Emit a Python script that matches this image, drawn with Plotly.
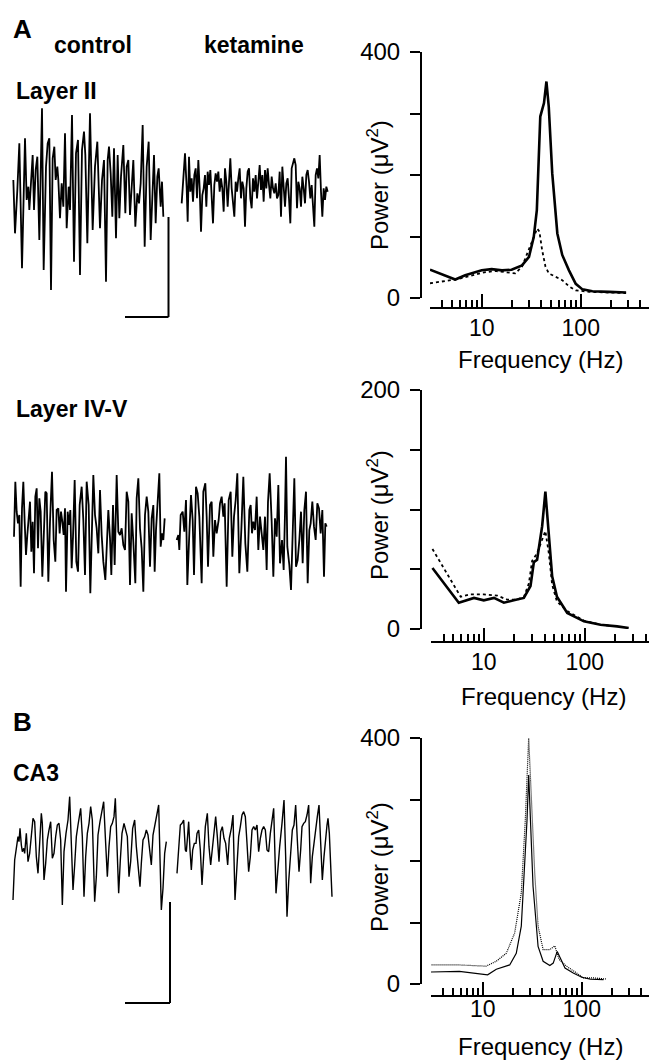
import math
import plotly.graph_objects as go

W, H = 657, 1060
OFF = 8  # the page body adds an 8px margin around the figure
FONT = "Liberation Sans, Arial, Helvetica, sans-serif"

# ---------------------------------------------------------------
# example field potential traces
# (time / amplitude in arbitrary units, no calibration given)
# ---------------------------------------------------------------
l2_ctrl_t = [10, 15, 22, 28, 36, 45, 50, 55, 58, 63, 68, 72, 77, 82, 88, 96, 101, 108, 113, 118,
             123, 128, 133, 137, 142, 145, 150, 155, 160, 165, 170, 176, 180, 186, 192, 198, 204, 210, 216, 222,
             226, 232, 240, 248, 255, 262, 270, 276, 282, 288, 293, 297, 302, 307, 312, 318, 323, 328, 333, 340,
             346, 350, 355, 360, 365, 370, 376, 382, 387, 392, 398, 404, 410, 416, 422, 428, 432, 437, 442, 446,
             452, 456, 460]
l2_ctrl_v = [40, -120, 10, 150, -225, 165, -20, 20, -50, 30, 115, -50, 70, 110, -140, 255, -230, 80, 150, 165,
             -290, 105, 140, 40, 80, 40, -75, 30, -40, 180, -105, 20, -50, 235, -205, 120, 160, -245, 130, 185,
             115, -150, 240, -110, 80, 155, -105, 40, 100, -265, 100, 140, 60, -70, 135, -135, 115, -75, 50, 145,
             -60, 80, 100, -65, 40, 100, -100, 0, -30, 30, 205, -160, 80, 155, -140, 35, 115, -90, 50, 75,
             -40, 35, -70]

l2_ket_t = [20, 25, 30, 35, 38, 42, 46, 50, 54, 58, 62, 66, 70, 74, 78, 82, 86, 90, 94, 98,
            102, 106, 110, 114, 118, 122, 126, 130, 134, 138, 142, 146, 150, 154, 158, 162, 166, 170, 174, 178,
            182, 186, 190, 194, 198, 202, 206, 210, 214, 218, 222, 226, 230, 234, 238, 242, 246, 250, 254, 258,
            262, 266, 270, 274, 278, 282, 286, 290, 294, 298, 302, 306, 310, 314, 318, 322, 326, 330, 334, 338,
            342, 346, 350, 354, 358, 362, 366, 370, 374, 378, 382, 386, 390, 394, 398, 402, 406, 410, 414, 418,
            422, 426, 430, 434, 438, 442, 446, 450, 454, 458]
l2_ket_v = [-45, 30, 105, 0, -100, 95, -10, 30, -40, 40, 60, -30, 85, 0, -130, -20, 0, 40, -55, 50,
            10, 55, -10, -105, 10, 45, 20, 50, -10, 30, 0, -70, 60, 20, -55, 40, 90, 0, -50, -85,
            20, -10, 30, 60, -30, 20, 0, -115, 0, 50, 60, -30, -60, 30, -10, 40, -30, 20, 70, -5,
            40, -40, 55, 0, 60, 10, -30, 35, 0, -15, 15, -30, -20, 50, -85, 65, 0, -55, 15, 30,
            -30, -105, 60, 80, 90, 70, -60, 20, 0, -55, 35, 0, -45, 40, 55, 20, -30, 10, -40, -115,
            40, 60, 30, 100, -10, -85, 0, -35, 5, -10]

l45_ctrl_t = [12, 16, 20, 24, 28, 32, 36, 40, 44, 48, 52, 56, 60, 64, 68, 72, 76, 80, 84, 88,
              92, 97, 102, 106, 110, 115, 120, 126, 131, 136, 140, 145, 149, 153, 157, 161, 165, 168, 173, 177,
              181, 185, 189, 194, 199, 204, 209, 215, 220, 225, 230, 236, 241, 246, 250, 255, 260, 265, 270, 275,
              280, 286, 290, 295, 300, 304, 309, 314, 320, 325, 330, 335, 340, 345, 350, 355, 360, 365, 370, 376,
              380, 385, 390, 395, 400, 405, 410, 415, 420, 425, 430, 434, 438, 443, 448, 452, 456, 460, 464]
l45_ctrl_v = [-25, 140, 50, 15, 40, -175, 60, 140, 20, -80, -20, 40, 80, -70, 20, -135, 95, 120, -60, 90,
              50, -145, 20, 110, 105, -160, 20, 170, -35, -100, 55, 60, -15, 50, 20, -20, 60, -190, 50, 10,
              55, -120, -25, 145, -100, -130, 70, 125, 25, -140, 140, 70, -195, 20, 160, 40, 0, -75, 115, -20,
              -100, -155, -30, 55, -30, -140, 70, -110, 160, -10, -20, 0, -50, -65, 110, 80, -170, 45, -40, -165,
              90, 150, 0, -60, -190, 40, 95, 50, -115, 30, 70, -130, -5, 80, 165, -55, -15, -35, 30]

l45_ket_t = [20, 25, 28, 32, 38, 43, 48, 52, 58, 63, 68, 72, 78, 83, 88, 95, 100, 106, 110, 114,
             120, 125, 130, 135, 140, 146, 150, 155, 160, 164, 170, 176, 182, 187, 192, 197, 202, 208, 214, 220,
             226, 232, 238, 242, 246, 250, 255, 260, 265, 270, 275, 280, 285, 290, 294, 299, 305, 310, 315, 320,
             325, 330, 336, 341, 345, 348, 352, 358, 363, 368, 373, 378, 383, 388, 393, 398, 403, 408, 413, 418,
             422, 427, 432, 437, 442, 447, 452, 457, 462, 466, 470]
l45_ket_v = [-30, -15, -60, 45, 55, -5, 90, -165, -10, 105, 30, -135, 130, 110, 40, -160, 115, 140, 40, -110,
             75, 85, -80, 30, -10, 30, 80, 100, 40, 80, -170, 90, 115, -80, 40, 90, 170, -130, 0, 160,
             -40, -125, 60, 75, -10, 25, 0, 100, -60, 40, -10, -60, 40, -120, 85, 170, 25, -140, 35, -20,
             135, -100, -30, -120, 50, 220, -50, -105, -180, 10, 155, -110, -90, -30, 55, -100, 60, 115, -160, 0,
             20, 85, 10, -30, 80, 65, -10, 60, -140, 20, 10]

ca3_ctrl_t = [15, 20, 25, 30, 33, 36, 40, 43, 47, 50, 55, 60, 65, 70, 75, 80, 85, 90, 95, 100,
              103, 108, 113, 118, 123, 128, 133, 138, 143, 148, 153, 158, 163, 168, 174, 180, 185, 190, 195, 200,
              205, 210, 213, 218, 223, 228, 233, 238, 243, 248, 253, 260, 265, 270, 276, 282, 287, 292, 298, 303,
              308, 313, 318, 322, 327, 332, 337, 342, 348, 353, 358, 363, 368, 374, 380, 385, 390, 396, 400, 405,
              410, 415, 420, 425, 430, 435, 440, 446, 452, 456, 460, 465, 470, 475]
ca3_ctrl_v = [-150, -30, 5, 40, 25, 65, 15, -5, 5, -10, 50, -35, -10, 55, 95, 85, -20, -70, 40, 110,
              80, -90, -40, 30, 60, 85, -25, -10, 40, 75, 80, 30, -165, -5, 50, 90, 160, 0, -120, -45,
              40, 75, 100, 125, 40, -140, -20, 50, 80, 130, 90, -155, -80, 45, 85, 115, 145, 40, -80, 10,
              70, 80, 100, 155, -10, -130, -30, 50, 80, 60, 40, -80, -35, 65, 90, 10, -55, -110, -40, 30,
              40, 60, 45, 5, -45, 45, 70, 100, 135, -25, -180, -115, -10, 25]

ca3_ket_t = [15, 20, 25, 30, 35, 40, 43, 47, 50, 54, 58, 62, 67, 72, 75, 80, 85, 90, 95, 100,
             106, 111, 116, 121, 126, 131, 136, 141, 146, 151, 156, 161, 167, 172, 178, 183, 189, 195, 200, 205,
             210, 215, 220, 225, 230, 235, 240, 245, 250, 255, 260, 265, 270, 275, 280, 285, 290, 295, 300, 305,
             312, 318, 323, 330, 336, 341, 345, 350, 356, 361, 366, 371, 376, 381, 386, 390, 395, 400, 405, 410,
             416, 421, 426, 431, 436, 441, 447, 451, 456, 460, 465, 468, 472, 480]
ca3_ket_v = [-80, 0, 65, 70, 80, -10, -15, 35, 75, -10, -70, -10, 10, 10, 40, 50, -10, -115, -30, 60,
             100, 0, -55, -5, 60, 90, 30, -45, 45, 60, 25, 10, -55, 25, 55, 95, -160, -50, 30, 60,
             95, 105, 90, 10, -75, -30, 50, 60, 50, 65, -15, 25, 50, 60, 50, -10, -15, 40, 85, 115,
             -140, -50, 0, 70, 140, -30, -210, -105, -10, 50, 65, 125, 20, -75, -10, 60, 70, 75, 95, 125,
             -110, -30, 10, 60, 90, 125, -5, -100, -30, 20, 65, 85, 40, -150]

# ---------------------------------------------------------------
# power spectra (Hz, uV^2)
# ---------------------------------------------------------------
l2_f_ctrl = [3.0, 5.4, 6.8, 10, 12.6, 16, 20, 25.5, 30, 33.5, 36, 39, 42.5, 45, 47.5, 51.5, 58, 65, 76, 89,
             104, 131, 194, 287]
l2_p_ctrl = [46, 30, 37, 45, 47, 45, 46, 53, 67, 99, 143, 295, 317, 352, 311, 203, 105, 70, 45, 23,
             14, 11, 10, 9]
l2_f_ket = [3.0, 5.4, 7.3, 10, 13.7, 18.7, 21.8, 25.5, 30, 33.5, 36.2, 38.2, 40.7, 44, 47.6, 55.7, 65, 76,
            89, 122, 194, 287]
l2_p_ket = [24, 30, 35, 41, 44, 42, 40, 51, 78, 99, 113, 108, 78, 51, 40, 34, 29, 19, 12.5, 10, 9, 8]

l45_f_ctrl = [3.1, 5.65, 8, 10, 12.6, 15.8, 19.8, 24.9, 29, 31.3, 33.7, 37.8, 40.7, 44, 47.5, 53, 67, 98,
              143, 209, 272]
l45_p_ctrl = [51, 22, 26, 24, 26, 22, 24, 26, 36, 56, 58, 86, 115, 77, 44, 27, 13.4, 6.4, 3.6, 2.2, 0.8]
l45_f_ket = [3.1, 5.9, 7.4, 10, 13.6, 17.1, 21.4, 25, 27.9, 30.1, 33.7, 37.8, 40.7, 44, 47.5, 53, 67, 98,
             143, 209]
l45_p_ket = [67, 27, 29, 29, 28, 24.5, 24.5, 27, 38, 57, 63.5, 75, 82, 63.5, 37, 23, 15, 7, 3.6, 2.2]

ca3_f_ctrl = [2.9, 5.8, 11.2, 13.7, 18.7, 21.8, 24.5, 26.5, 28, 29.1, 30.5, 32.2, 36.2, 40.7, 47.6, 51.5,
              56.5, 61.2, 67.7, 82, 100, 122, 166]
ca3_p_ctrl = [19.5, 20.6, 15, 24, 31, 50, 94, 186, 267, 340, 251, 159, 61, 37, 30, 34, 53, 42, 26, 18,
              11, 8, 7]
ca3_f_ket = [2.9, 5.8, 10.8, 13.7, 17.3, 21, 24.5, 26.9, 29.1, 31.5, 33.5, 36.2, 40.7, 47.6, 53.4, 59, 70,
             88.5, 104, 131, 178]
ca3_p_ket = [31, 31, 29, 37, 50, 83, 148, 267, 400, 278, 180, 94, 56, 56, 62, 40, 29, 18, 10, 10, 8]

major_ticks = [10, 100]
minor_ticks = [3, 4, 5, 6, 7, 8, 9, 20, 30, 40, 50, 60, 70, 80, 90, 200, 300, 400, 500]


# screen px -> paper fraction
def px(x):
    return (x - OFF) / W


def py(y):
    return 1 - (y - OFF) / H


def xdom(a, b):
    return [px(a), px(b)]


def ydom(top, bottom):
    return [py(bottom), py(top)]


fig = go.Figure()
layout = {}

# ---- traces on the left: (t, v, box px [x0, x1, y0, y1], t span, v range, width)
traces = [
    (l2_ctrl_t, l2_ctrl_v, (10, 170, 100, 295), 480, (-305, 280), 1.8),
    (l2_ket_t, l2_ket_v, (175, 335, 145, 235), 480, (-140, 130), 1.8),
    (l45_ctrl_t, l45_ctrl_v, (10, 170, 455, 605), 480, (-230, 220), 1.8),
    (l45_ket_t, l45_ket_v, (170, 335, 450, 600), 495, (-210, 240), 1.8),
    (ca3_ctrl_t, ca3_ctrl_v, (8, 173, 790, 920), 495, (-210, 180), 1.4),
    (ca3_ket_t, ca3_ket_v, (172, 337, 790, 925), 495, (-235, 170), 1.4),
]
for k, (t, v, box, span, vr, lw) in enumerate(traces, start=4):
    fig.add_trace(go.Scatter(x=t, y=v, mode="lines", line=dict(color="black", width=lw),
                             xaxis=f"x{k}", yaxis=f"y{k}", showlegend=False, cliponaxis=False,
                             hoverinfo="skip"))
    layout[f"xaxis{k}"] = dict(domain=xdom(box[0], box[1]), range=[0, span], visible=False,
                               anchor=f"y{k}", automargin=False)
    layout[f"yaxis{k}"] = dict(domain=ydom(box[2], box[3]), range=list(vr), visible=False,
                               anchor=f"x{k}", automargin=False)

# ---- power spectra on the right
# geometry: px of 3 Hz, px per decade, axis end px, y px of 0, y px of top, top value,
#           x px of y axis, y px of x axis, tick label standoff, line widths
panels = [
    (l2_f_ctrl, l2_p_ctrl, l2_f_ket, l2_p_ket, 430, 99, 652, 298, 52, 400, 421, 308, -1, 2.6, 1.8),
    (l45_f_ctrl, l45_p_ctrl, l45_f_ket, l45_p_ket, 431, 101, 655, 629, 390, 200, 421, 642, -1, 2.6, 1.8),
    (ca3_f_ctrl, ca3_p_ctrl, ca3_f_ket, ca3_p_ket, 431, 99, 651, 984, 738, 400, 421, 996, -8, 1.2, 1.2),
]
for k, (fc, pc, fk, pk, x3, dec, xend, y0, ytop, ymax, yx, xy, sto, lwc, lwk) in enumerate(panels, start=1):
    sfx = "" if k == 1 else str(k)
    fig.add_trace(go.Scatter(x=fc, y=pc, mode="lines", line=dict(color="black", width=lwc),
                             xaxis=f"x{sfx}", yaxis=f"y{sfx}", showlegend=False, cliponaxis=False))
    fig.add_trace(go.Scatter(x=fk, y=pk, mode="lines",
                             line=dict(color="black", width=lwk, dash="dot" if k < 3 else "1px,1px"),
                             xaxis=f"x{sfx}", yaxis=f"y{sfx}", showlegend=False, cliponaxis=False))
    lo = math.log10(3)
    layout[f"xaxis{sfx}"] = dict(
        type="log", domain=xdom(x3, xend), range=[lo, lo + (xend - x3) / dec],
        anchor="free", position=py(xy), showline=True, linecolor="black", linewidth=2,
        showgrid=False, zeroline=False, ticks="inside", ticklen=13, tickwidth=1.6, tickcolor="black",
        tickvals=major_ticks, ticktext=[str(v) for v in major_ticks], ticklabelstandoff=sto,
        tickfont=dict(family=FONT, size=23, color="black"), automargin=False,
        minor=dict(ticks="inside", ticklen=7, tickwidth=1.6, tickcolor="black", tickvals=minor_ticks,
                   showgrid=False),
    )
    layout[f"yaxis{sfx}"] = dict(
        domain=ydom(ytop, y0), range=[0, ymax], anchor="free", position=px(yx),
        showline=True, linecolor="black", linewidth=2, showgrid=False, zeroline=False,
        ticks="outside", ticklen=10, tickwidth=2, tickcolor="black",
        tickvals=[ymax * i / 4 for i in range(5)], ticktext=["0", "", "", "", str(ymax)],
        ticklabelstandoff=5, tickfont=dict(family=FONT, size=24, color="black"), automargin=False,
    )

# ---- text
ann = []


def label(text, x, y, size, xanchor="left", angle=0):
    ann.append(dict(text=text, x=px(x), y=py(y), xref="paper", yref="paper", showarrow=False,
                    xanchor=xanchor, yanchor="middle", textangle=angle,
                    font=dict(family=FONT, size=size, color="black")))


label("<b>A</b>", 11, 29, 26)
label("<b>control</b>", 93, 45, 23, "center")
label("<b>ketamine</b>", 254, 45, 23, "center")
label("<b>Layer II</b>", 14, 91, 23)
label("<b>Layer IV-V</b>", 14, 409, 23)
label("<b>B</b>", 11, 722, 26)
label("<b>CA3</b>", 11, 773, 23)
for yy in (185, 515, 867):
    label("Power (μV<sup>2</sup>)", 378, yy, 24, "center", -90)
for xx, yy in ((540, 359), (543, 696), (540, 1046)):
    label("Frequency (Hz)", xx, yy, 24, "center")

# ---- scale bars
shapes = []
for xv, ytop_, ybot, xl in ((168.5, 217, 317, 125), (170, 902, 1003, 125)):
    shapes.append(dict(type="line", xref="paper", yref="paper", x0=px(xv), x1=px(xv),
                       y0=py(ytop_), y1=py(ybot), line=dict(color="black", width=2)))
    shapes.append(dict(type="line", xref="paper", yref="paper", x0=px(xl), x1=px(xv),
                       y0=py(ybot), y1=py(ybot), line=dict(color="black", width=2)))

fig.update_layout(
    width=W, height=H, margin=dict(l=0, r=0, t=0, b=0, pad=0, autoexpand=False),
    paper_bgcolor="white", plot_bgcolor="white", showlegend=False,
    annotations=ann, shapes=shapes, **layout,
)

fig.write_html("out.html")
